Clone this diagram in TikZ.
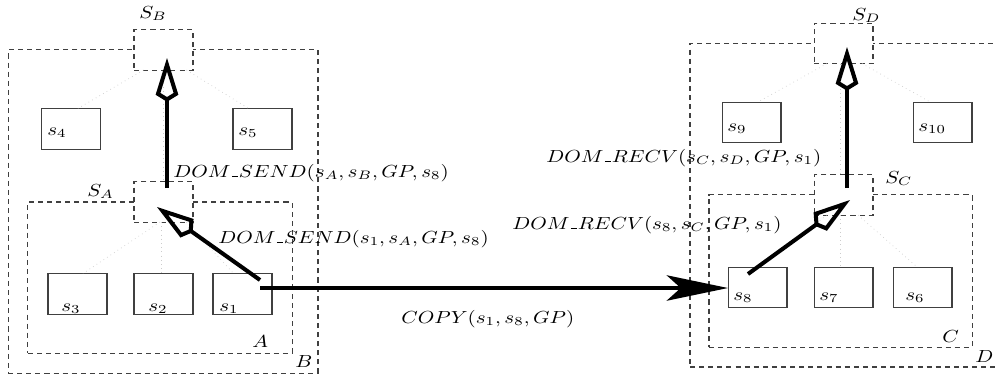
\documentclass[tikz,border=0pt]{standalone}
\usetikzlibrary{arrows.meta,calc}
\definecolor{boxgray}{gray}{0.25}
\definecolor{treegray}{gray}{0.8}
% labels are set slightly widened, as in the original figure
\newcommand{\lbl}[1]{\scalebox{1.2}[1]{$#1$}}
% short low bar joining the two parts of a message name
\newcommand{\jn}{\mkern1mu\mbox{\rule{2.8pt}{0.6pt}}\mkern1mu}
\tikzset{
  frame/.style={draw=boxgray, line width=0.6pt, dash pattern=on 2.9pt off 2.3pt,
                inner sep=0pt, outer sep=0pt},
  sbox/.style={frame, fill=white, minimum width=33.7pt, minimum height=22.9pt},
  leaf/.style={draw=boxgray, line width=0.6pt, fill=white, inner sep=0pt,
               minimum width=33.7pt, minimum height=22.9pt},
  tree/.style={draw=treegray, line width=0.4pt, dotted},
  lab/.style={inner sep=0pt, anchor=base west},
  msg/.style={line width=2.3pt, -{Kite[open, length=25pt, width=13pt, inset=4pt]}},
  copyarrow/.style={line width=2.3pt, -{Stealth[length=35pt, width=14.5pt, inset=8pt]}},
}
\begin{document}
\begin{tikzpicture}[x=0.5714pt, y=-0.5714pt]
\useasboundingbox (0,0) rectangle (995,381);

% domain frames
\node[frame, minimum width=177.1pt, minimum height=184.6pt] (B) at (163,211.5) {};
\node[frame, minimum width=150.9pt, minimum height=86.3pt]  (A) at (160,277.5) {};
\node[frame, minimum width=176pt,   minimum height=185.1pt] (D) at (844,205) {};
\node[frame, minimum width=150.3pt, minimum height=86.9pt]  (C) at (840.5,271) {};

% server boxes (placed on the frame borders)
\node[sbox] (SB) at (163.5,50) {};
\node[sbox] (SA) at (163.5,202) {};
\node[sbox] (SD) at (843.5,43.5) {};
\node[sbox] (SC) at (843.5,195) {};

% leaf servers
\node[leaf] (s4)  at (71,129) {};
\node[leaf] (s5)  at (262.5,129) {};
\node[leaf] (s3)  at (77.5,294) {};
\node[leaf] (s2)  at (163.5,294) {};
\node[leaf] (s1)  at (242.5,294) {};
\node[leaf] (s9)  at (751.5,122.5) {};
\node[leaf] (s10) at (942.5,122.5) {};
\node[leaf] (s8)  at (757.5,287.5) {};
\node[leaf] (s7)  at (843.5,287.5) {};
\node[leaf] (s6)  at (922.5,287.5) {};

% hierarchy links
\draw[tree] ($(SB.south)+(-20,0)$) -- ($(s4.north)+(7,0)$);
\draw[tree] ($(SB.south)+(23,0)$)  -- ($(s5.north)+(-14,0)$);
\draw[tree] ($(SB.south)+(-0.5,0)$) -- ($(SA.north)+(-0.5,0)$);
\draw[tree] ($(SA.south)+(-3.5,0)$) -- ($(s3.north)+(5.5,0)$);
\draw[tree] ($(SA.south)+(-2.5,0)$) -- ($(s2.north)+(-2.5,0)$);
\draw[tree] ($(SA.south)+(23,0)$)  -- ($(s1.north)+(-9,0)$);
\draw[tree] ($(SD.south)+(-16.5,0)$) -- ($(s9.north)+(6.5,0)$);
\draw[tree] ($(SD.south)+(18.5,0)$)  -- ($(s10.north)+(-12.5,0)$);
\draw[tree] ($(SD.south)+(-3.5,0)$) -- ($(SC.north)+(-3.5,0)$);
\draw[tree] ($(SC.south)+(-16.5,0)$) -- ($(s8.north)+(0.5,0)$);
\draw[tree] ($(SC.south)+(-3.5,0)$) -- ($(s7.north)+(-3.5,0)$);
\draw[tree] ($(SC.south)+(14.5,0)$) -- ($(s6.north)+(-5.5,0)$);

% names
\node[lab] (lSB) at (139,18)  {\lbl{S_B}};
\node[lab] (lSA) at (87,196)  {\lbl{S_A}};
\node[lab] (lSD) at (852,20)  {\lbl{S_D}};
\node[lab] (lSC) at (885,183) {\lbl{S_C}};
\node[lab] (lB)  at (295,367) {\lbl{B}};
\node[lab] (lA)  at (252,347) {\lbl{A}};
\node[lab] (lC)  at (942,342) {\lbl{C}};
\node[lab] (lD)  at (975,362) {\lbl{D}};
\node[lab] (ls4)  at (47,135)  {\lbl{s_4}};
\node[lab] (ls5)  at (238,135) {\lbl{s_5}};
\node[lab] (ls3)  at (61,311)  {\lbl{s_3}};
\node[lab] (ls2)  at (148,311) {\lbl{s_2}};
\node[lab] (ls1)  at (219,311) {\lbl{s_1}};
\node[lab] (ls9)  at (727,131) {\lbl{s_9}};
\node[lab] (ls10) at (918,131) {\lbl{s_{10}}};
\node[lab] (ls8)  at (733,300) {\lbl{s_8}};
\node[lab] (ls7)  at (819,300) {\lbl{s_7}};
\node[lab] (ls6)  at (905,300) {\lbl{s_6}};

% message labels
\node[lab] (m1) at (173,177) {\lbl{DOM\jn SEND(s_A,s_B,GP,s_8)}};
\node[lab] (m2) at (218,243) {\lbl{DOM\jn SEND(s_1,s_A,GP,s_8)}};
\node[lab] (m3) at (546,162) {\lbl{DOM\jn RECV(s_C,s_D,GP,s_1)}};
\node[lab] (m4) at (512,229) {\lbl{DOM\jn RECV(s_8,s_C,GP,s_1)}};
\node[lab] (m5) at (401,323) {\lbl{COPY(s_1,s_8,GP)}};

% message end points
\coordinate (s1up)   at (260,280);
\coordinate (s1out)  at (260,288);
\coordinate (SAin)   at (157,207);
\coordinate (SAup)   at (167,188);
\coordinate (SBin)   at (167,58);
\coordinate (s8in)   at (728,288);
\coordinate (s8up)   at (748,274);
\coordinate (SCin)   at (850,200);
\coordinate (SCup)   at (847,188);
\coordinate (SDin)   at (847,47);

% messages
\draw[msg] (s1up) -- (SAin);
\draw[msg] (SAup) -- (SBin);
\draw[msg] (s8up) -- (SCin);
\draw[msg] (SCup) -- (SDin);
\draw[copyarrow] (s1out) -- (s8in);
\end{tikzpicture}
\end{document}
